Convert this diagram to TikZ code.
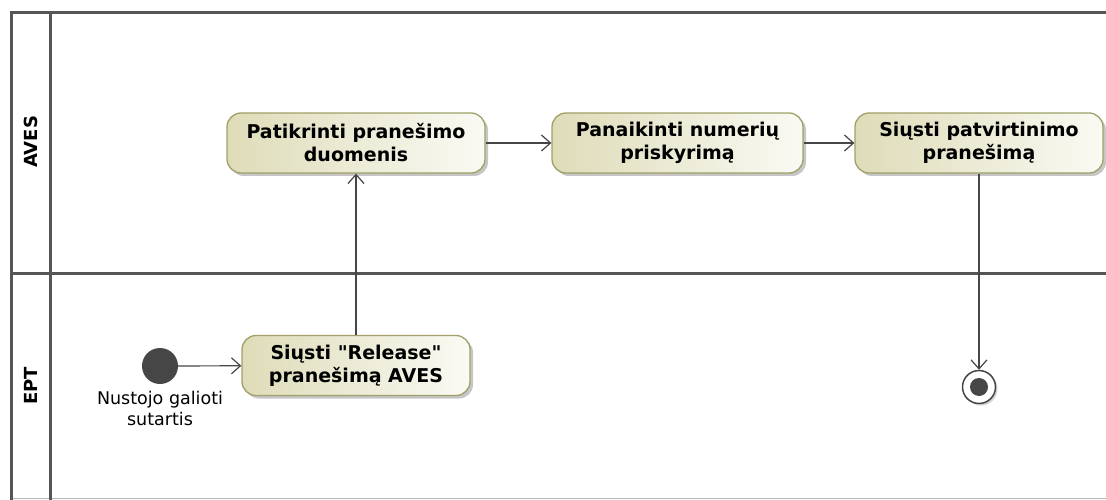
\documentclass[tikz,border=0pt]{standalone}
\usepackage{fontspec}
\setmainfont{DejaVu Sans}
\usepackage{tikz}
\usetikzlibrary{arrows.meta,positioning,shadows}

\definecolor{lanegray}{RGB}{85,85,85}
\definecolor{actborder}{RGB}{160,160,104}
\definecolor{actleft}{RGB}{222,220,184}
\definecolor{actright}{RGB}{250,250,244}
\definecolor{flowgray}{RGB}{70,70,70}

\tikzset{
  lane/.style={draw=lanegray, line width=3pt},
  lanename/.style={rotate=90, font=\fontsize{18}{22}\selectfont\bfseries},
  action/.style={draw=actborder, line width=1.3pt, rounded corners=14pt,
    left color=actleft, right color=actright, minimum height=60pt,
    align=center, inner sep=2pt, font=\fontsize{19}{23}\selectfont\bfseries,
    drop shadow={shadow xshift=3pt, shadow yshift=-3pt, opacity=.45, fill=gray}},
  flow/.style={draw=flowgray, line width=1.2pt, -{Straight Barb[length=9pt,width=16pt]}},
  initnode/.style={circle, fill=flowgray, minimum size=36pt, inner sep=0pt},
  finalnode/.style={circle, draw=flowgray, line width=1.5pt, fill=white, minimum size=33pt, inner sep=0pt,
    drop shadow={shadow xshift=2pt, shadow yshift=-2pt, opacity=.35, fill=gray},
    path picture={\fill[flowgray] (path picture bounding box.center) circle (9pt);}},
}

\begin{document}
\begin{tikzpicture}[x=1pt,y=1pt,yscale=-1,xscale=1]
\useasboundingbox (0,0) rectangle (1106,500);

%Swimlanes
\draw [lanegray!40, line width=1pt] (11,498.5) -- (1106,498.5) ;
\draw [lane] (1106,13) -- (11,13) -- (11,500) ;
\draw [lane] (50.5,13) -- (50.5,500) ;
\draw [lane] (11,273) -- (1106,273) ;

% Lane names
\node [lanename] (aves) at (30.5,142) {AVES};
\node [lanename] (ept) at (30.5,386) {EPT};

%Actions
\node [action, minimum width=258pt] (check) at (356,143) {Patikrinti pranešimo\\duomenis};
\node [action, minimum width=251pt] (cancel) at (677.5,143) {Panaikinti numerių\\priskyrimą};
\node [action, minimum width=248pt] (confirm) at (979,143) {Siųsti patvirtinimo\\pranešimą};
\node [action, minimum width=228pt] (release) at (356,365.5) {Siųsti \textquotedbl Release\textquotedbl\\pranešimą AVES};

%Initial and final
\node [initnode] (start) at (160,366) {};
\node [below=3pt of start, align=center, font=\fontsize{17.5}{21}\selectfont] (startlbl) {Nustojo galioti\\sutartis};
\node [finalnode] (end) at (979,387) {};

%Flows
\draw [flow] (start) -- (release) ;
\draw [flow] (release) -- (check) ;
\draw [flow] (check) -- (cancel) ;
\draw [flow] (cancel) -- (confirm) ;
\draw [flow] (confirm) -- (end) ;

\end{tikzpicture}
\end{document}
